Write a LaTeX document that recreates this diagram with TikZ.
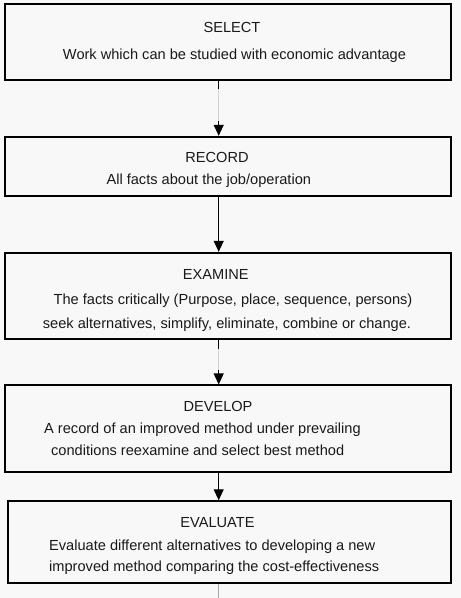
\documentclass[tikz,border=0pt]{standalone}
\usepackage{fontspec}
\setmainfont{Liberation Sans}
\usetikzlibrary{arrows.meta}
\definecolor{bgc}{RGB}{248,248,248}
\definecolor{txt}{RGB}{25,25,25}
\begin{document}
\begin{tikzpicture}[x=1pt,y=-1pt,
  stepbox/.style={draw=black,line width=2pt,rectangle,inner sep=0pt,fill=bgc},
  ttl/.style={anchor=base,inner sep=0pt,text=txt,font=\fontsize{14.6}{17}\selectfont},
  lft/.style={anchor=base west,inner sep=0pt,text=txt,font=\fontsize{14.6}{17}\selectfont},
  conn/.style={draw=black,line width=1.1pt,-{Triangle[width=10pt,length=11pt]}},
  faint/.style={draw=gray!35,line width=1.2pt}]
\fill[bgc] (0,0) rectangle (461,598);
\useasboundingbox (0,0) rectangle (461,598);
\coordinate (ax) at (218.7,0);
% boxes
\node[stepbox,minimum width=446.3pt,minimum height=76.3pt] (sel) at (228.2,42.2) {};
\node[stepbox,minimum width=446.3pt,minimum height=59.4pt] (rec) at (228.2,166.5) {};
\node[stepbox,minimum width=446.3pt,minimum height=86pt] (exa) at (228.2,295.8) {};
\node[stepbox,minimum width=446.3pt,minimum height=86.7pt] (dev) at (228.2,428.8) {};
\node[stepbox,minimum width=443pt,minimum height=81.5pt] (eva) at (229.8,542) {};
\coordinate (endp) at (218.7,598);
% texts
\node[ttl] (selT) at (232,32.3) {SELECT};
\node[ttl] (selS) at (234.5,59) {Work which can be studied with economic advantage};
\node[ttl] (recT) at (217,162.3) {RECORD};
\node[ttl] (recS) at (208.8,184.3) {All facts about the job/operation};
\node[ttl] (exaT) at (215.8,279.3) {EXAMINE};
\node[ttl] (exaS) at (233,304.3) {The facts critically (Purpose, place, sequence, persons)};
\node[ttl] (exaU) at (227,328.3) {seek alternatives, simplify, eliminate, combine or change.};
\node[ttl] (devT) at (218,411) {DEVELOP};
\node[lft] (devS) at (44,433.3) {A record of an improved method under prevailing};
\node[lft] (devU) at (51,455) {conditions reexamine and select best method};
\node[ttl] (evaT) at (217.5,527.7) {EVALUATE};
\node[lft] (evaS) at (49,550) {Evaluate different alternatives to developing a new};
\node[lft] (evaU) at (49,571.3) {improved method comparing the cost-effectiveness};
% connectors
\draw[conn] (sel.south -| ax) -- (rec.north -| ax);
\draw[conn] (rec.south -| ax) -- (exa.north -| ax);
\draw[conn] (exa.south -| ax) -- (dev.north -| ax);
\draw[conn] (dev.south -| ax) -- (eva.north -| ax);
\draw[draw=gray!70,line width=1.1pt] (eva.south -| ax) -- (endp);
% faint middle parts
\path (sel.south -| ax) -- coordinate[pos=0.14] (g1a) coordinate[pos=0.72] (g1b) (rec.north -| ax);
\draw[faint] (g1a) -- (g1b);
\path (exa.south -| ax) -- coordinate[pos=0.2] (g3a) coordinate[pos=0.68] (g3b) (dev.north -| ax);
\draw[faint] (g3a) -- (g3b);
\end{tikzpicture}
\end{document}
